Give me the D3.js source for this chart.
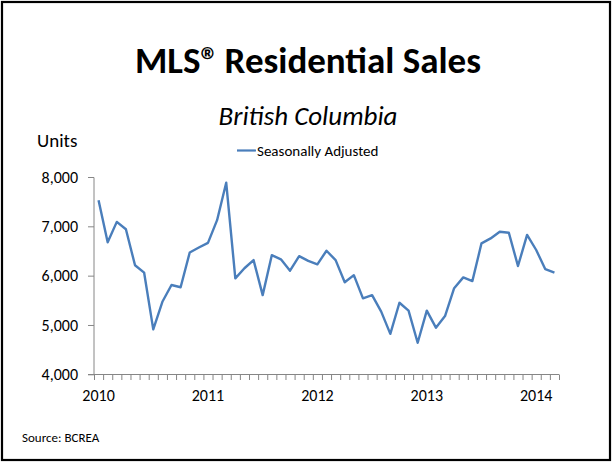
<!DOCTYPE html>
<html>
<head>
<meta charset="utf-8">
<script src="https://cdn.jsdelivr.net/npm/d3@7"></script>
<style>
  html, body { margin: 0; padding: 0; background: #fff; }
  svg { display: block; }
  text { font-family: Carlito, Calibri, Lato, "Open Sans", sans-serif; fill: #000; }
</style>
</head>
<body>
<svg id="chart" width="616" height="467"></svg>
<script>
// ---- data (monthly, Jan 2010 .. Mar 2014) ----
const years = [2010, 2011, 2012, 2013, 2014];
const months = d3.range(51).map(i => ({ year: 2010 + Math.floor(i / 12), month: i % 12 }));
const seasonallyAdjusted = [
  7530, 6675, 7090, 6940, 6210, 6060, 4910, 5470, 5810, 5765, 6470, 6570,
  6665, 7125, 7885, 5945, 6150, 6315, 5605, 6415, 6330, 6100, 6395, 6300,
  6230, 6505, 6315, 5865, 6010, 5540, 5605, 5270, 4820, 5450, 5290, 4640,
  5290, 4945, 5180, 5745, 5965, 5890, 6655, 6755, 6890, 6870, 6195, 6825,
  6520, 6130, 6060
];
const yTicks = [4000, 5000, 6000, 7000, 8000];
const titleParts = ["MLS®", "Residential Sales"];
const subtitle = "British Columbia";
const yLabel = "Units";
const seriesName = "Seasonally Adjusted";
const source = "Source: BCREA";

const svg = d3.select("#chart");

// border
svg.append("rect").attr("x", 2).attr("y", 2).attr("width", 608).attr("height", 458)
  .attr("fill", "#fff").attr("stroke", "#000").attr("stroke-width", 2.2);

// titles
const t = svg.append("text").attr("x", 308).attr("y", 73).attr("text-anchor", "middle")
  .attr("font-size", 37).attr("font-weight", "bold");
t.append("tspan").text(titleParts[0]);
t.append("tspan").attr("dx", -3).text(" " + titleParts[1]);
svg.append("text").attr("x", 308).attr("y", 125).attr("text-anchor", "middle")
  .attr("font-size", 27).attr("font-style", "italic").text(subtitle);
svg.append("text").attr("x", 37).attr("y", 147).attr("font-size", 19).text(yLabel);

// legend
svg.append("line").attr("x1", 237).attr("x2", 256).attr("y1", 150.5).attr("y2", 150.5)
  .attr("stroke", "#4A7EBB").attr("stroke-width", 2.2);
svg.append("text").attr("x", 257).attr("y", 155.5).attr("font-size", 15).text(seriesName);

// scales
const x = d3.scaleBand().domain(d3.range(months.length)).range([94, 559]);
const y = d3.scaleLinear().domain([4000, 8000]).range([374.3, 177]);

// y axis
const yAxis = d3.axisLeft(y).tickValues(yTicks).tickSize(6).tickPadding(10)
  .tickFormat(d3.format(","));
const gy = svg.append("g").attr("transform", "translate(94,0)").call(yAxis);
gy.select(".domain").attr("stroke", "#868686").attr("d", "M-6,177.5H0V374.3");
gy.selectAll(".tick line").attr("stroke", "#868686");
gy.selectAll(".tick text").attr("font-size", 16).attr("fill", "#1a1a1a")
  .style("font-family", "Carlito, Calibri, Lato, sans-serif");

// x axis (category ticks between months)
const gx = svg.append("g");
gx.append("line").attr("x1", 88).attr("x2", 559).attr("y1", 374.5).attr("y2", 374.5)
  .attr("stroke", "#868686");
gx.selectAll("line.tk").data(d3.range(months.length + 1)).join("line").attr("class", "tk")
  .attr("x1", i => (i < months.length ? x(i) : x.range()[1]) + 0.5)
  .attr("x2", i => (i < months.length ? x(i) : x.range()[1]) + 0.5)
  .attr("y1", 374.5).attr("y2", 380).attr("stroke", "#868686");
gx.selectAll("text").data(years).join("text")
  .attr("x", yr => x((yr - 2010) * 12) + x.bandwidth() / 2)
  .attr("y", 401).attr("text-anchor", "middle").attr("font-size", 16).attr("fill", "#1a1a1a")
  .text(d => d);

// line
const line = d3.line().x((d, i) => x(i) + x.bandwidth() / 2).y(d => y(d));
svg.append("path").datum(seasonallyAdjusted).attr("d", line)
  .attr("fill", "none").attr("stroke", "#4A7EBB").attr("stroke-width", 2.4)
  .attr("stroke-linejoin", "round");

// source
svg.append("text").attr("x", 22).attr("y", 442).attr("font-size", 13).text(source);
</script>
</body>
</html>
